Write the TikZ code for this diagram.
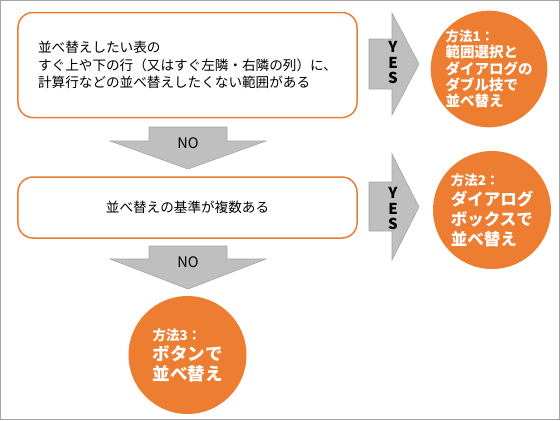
\documentclass[tikz,border=0pt]{standalone}
\usepackage{fontspec}
\setmainfont{Noto Sans CJK JP}
\usepackage{tikz}
\definecolor{methodorange}{HTML}{ED7D31}
\definecolor{arrowgray}{HTML}{BFBFBF}
\definecolor{arrowedge}{HTML}{A5A5A5}
\definecolor{framegray}{HTML}{A6A6A6}
\tikzset{
	question/.style={draw=methodorange, line width=1.5bp, rounded corners=15bp, fill=white, minimum width=339bp, align=left, font=\fontsize{13.6bp}{17.5bp}\selectfont},
	method/.style={circle, fill=methodorange, text=white, align=left, inner sep=0pt, font=\bfseries},
	flow/.style={fill=arrowgray, draw=arrowedge, line width=0.6bp},
	flowtext/.style={align=center, font=\fontsize{14.5bp}{15bp}\selectfont}
}

\begin{document}
\begin{tikzpicture}[x=1bp, y=-1bp]
	\useasboundingbox (0,0) rectangle (560,420);
	\draw[framegray, line width=1bp] (0.5,0.5) rectangle (559.5,419.5);
	% questions
	\node[question, minimum height=105bp] (q1) at (187.5,65) {並べ替えしたい表の\\すぐ上や下の行（又はすぐ左隣・右隣の列）に、\\計算行などの並べ替えしたくない範囲がある};
	\node[question, minimum height=61bp] (q2) at (187.5,207.5) {並べ替えの基準が複数ある};
	% answers
	\node[method, minimum size=113bp, font=\bfseries\fontsize{14.5bp}{16.3bp}\selectfont] (m1) at (489,69) {{\fontsize{13.5bp}{16bp}\selectfont 方法1：}\\範囲選択と\\ダイアログの\\ダブル技で\\並べ替え};
	\node[method, minimum size=118bp, font=\bfseries\fontsize{16.5bp}{20bp}\selectfont] (m2) at (492,210) {{\fontsize{13.5bp}{16bp}\selectfont 方法2：}\\ダイアログ\\ボックスで\\並べ替え};
	\node[method, minimum size=118bp, font=\bfseries\fontsize{17.5bp}{20bp}\selectfont] (m3) at (187.5,355) {{\fontsize{13.5bp}{16bp}\selectfont 方法3：}\\ボタンで\\並べ替え};
	% NO arrows
	\draw[flow] (149,127) -- (227,127) -- (227,141) -- (266,141) -- (188,169) -- (110,141) -- (149,141) -- cycle;
	\node[flowtext] (no1) at (188,143) {NO};
	\draw[flow] (149,246) -- (227,246) -- (227,259) -- (266,259) -- (188,289) -- (110,259) -- (149,259) -- cycle;
	\node[flowtext] (no2) at (188,262) {NO};
	% YES arrows
	\draw[flow] (369,39) -- (392,39) -- (392,13) -- (419,64) -- (392,115) -- (392,89) -- (369,89) -- cycle;
	\node[flowtext, font=\bfseries\fontsize{15bp}{15.5bp}\selectfont] (yes1) at (393,63) {Y\\E\\S};
	\draw[flow] (369,182) -- (392,182) -- (392,154) -- (419,207) -- (392,260) -- (392,231) -- (369,231) -- cycle;
	\node[flowtext, font=\bfseries\fontsize{15bp}{15.5bp}\selectfont] (yes2) at (393,209) {Y\\E\\S};
\end{tikzpicture}
\end{document}
